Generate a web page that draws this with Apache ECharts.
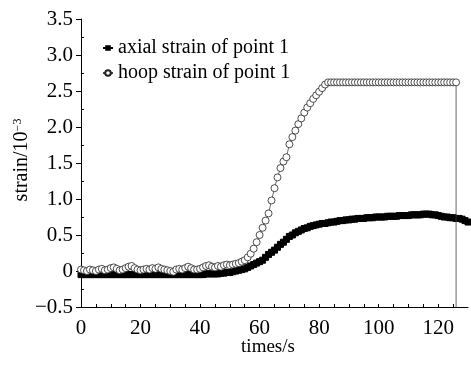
<!DOCTYPE html>
<html>
<head>
<meta charset="utf-8">
<script src="https://cdn.jsdelivr.net/npm/echarts@6/dist/echarts.min.js"></script>
<style>
html,body{margin:0;padding:0;background:#fff;}
#chart{width:471px;height:365px;}
</style>
</head>
<body>
<div id="chart"></div>
<script>
// ---- data ----
const seriesNames = ['axial strain of point 1', 'hoop strain of point 1'];

// axial strain, time (s) 0..130
const axialTime = [
  0,1,2,3,4,5,6,7,8,9,10,11,12,13,14,15,16,17,18,19,20,21,22,23,24,25,26,27,28,29,
  30,31,32,33,34,35,36,37,38,39,40,41,42,43,44,45,46,47,48,49,50,51,52,53,54,55,56,57,58,59,
  60,61,62,63,64,65,66,67,68,69,70,71,72,73,74,75,76,77,78,79,80,81,82,83,84,85,86,87,88,89,
  90,91,92,93,94,95,96,97,98,99,100,101,102,103,104,105,106,107,108,109,110,111,112,113,114,115,116,117,118,119,
  120,121,122,123,124,125,126,127,128,129,130
];
const axialStrain = [
  -0.05,-0.05,-0.05,-0.05,-0.05,-0.05,-0.05,-0.05,-0.05,-0.05,-0.05,-0.05,-0.05,-0.05,-0.05,-0.05,-0.05,-0.05,-0.05,-0.05,
  -0.05,-0.05,-0.05,-0.05,-0.05,-0.05,-0.05,-0.05,-0.05,-0.05,-0.05,-0.05,-0.05,-0.05,-0.05,-0.05,-0.05,-0.05,-0.05,-0.05,
  -0.05,-0.05,-0.04,-0.04,-0.04,-0.04,-0.04,-0.03,-0.03,-0.02,-0.02,-0.01,0.00,0.01,0.02,0.03,0.05,0.07,0.09,0.11,
  0.13,0.15,0.19,0.23,0.26,0.29,0.33,0.37,0.40,0.44,0.48,0.50,0.53,0.55,0.57,0.59,0.60,0.62,0.63,0.64,
  0.65,0.66,0.66,0.67,0.68,0.68,0.69,0.70,0.70,0.71,0.71,0.72,0.72,0.73,0.73,0.73,0.74,0.74,0.74,0.75,
  0.75,0.75,0.75,0.76,0.76,0.76,0.76,0.77,0.77,0.77,0.77,0.78,0.78,0.78,0.78,0.79,0.79,0.79,0.78,0.78,
  0.77,0.76,0.75,0.75,0.74,0.74,0.73,0.73,0.72,0.70,0.68
];

// hoop strain, time (s) 0..126, then the vertical drop at the end
const hoopTime = [
  0,1,2,3,4,5,6,7,8,9,10,11,12,13,14,15,16,17,18,19,20,21,22,23,24,25,26,27,28,29,
  30,31,32,33,34,35,36,37,38,39,40,41,42,43,44,45,46,47,48,49,50,51,52,53,54,55,56,57,58,59,
  60,61,62,63,64,65,66,67,68,69,70,71,72,73,74,75,76,77,78,79,80,81,82,83,84,85,86,87,88,89,
  90,91,92,93,94,95,96,97,98,99,100,101,102,103,104,105,106,107,108,109,110,111,112,113,114,115,116,117,118,119,
  120,121,122,123,124,125,126,126
];
const hoopStrain = [
  0.02,0.01,0.00,0.02,0.01,0.00,0.02,0.03,0.01,0.02,0.04,0.05,0.03,0.01,0.02,0.04,0.06,0.07,0.04,0.02,
  0.01,0.02,0.03,0.02,0.04,0.03,0.05,0.03,0.02,0.01,0.00,-0.01,0.02,0.03,0.02,0.04,0.06,0.04,0.02,0.02,
  0.03,0.05,0.07,0.08,0.06,0.05,0.07,0.06,0.08,0.09,0.08,0.09,0.10,0.11,0.13,0.15,0.19,0.24,0.31,0.40,
  0.50,0.60,0.70,0.80,0.98,1.15,1.30,1.43,1.52,1.58,1.76,1.86,1.95,2.04,2.12,2.20,2.27,2.33,2.39,2.44,
  2.49,2.54,2.59,2.62,2.62,2.62,2.62,2.62,2.62,2.62,2.62,2.62,2.62,2.62,2.62,2.62,2.62,2.62,2.62,2.62,
  2.62,2.62,2.62,2.62,2.62,2.62,2.62,2.62,2.62,2.62,2.62,2.62,2.62,2.62,2.62,2.62,2.62,2.62,2.62,2.62,
  2.62,2.62,2.62,2.62,2.62,2.62,2.62,-0.5
];

const xTickLabels = [0, 20, 40, 60, 80, 100, 120];
const xName = 'times/s';
const yNameMain = 'strain/10';
const yNameSup = '\u22123';

// ---- build ----
const serif = '"Liberation Serif", "Times New Roman", serif';
const axialData = axialTime.map((t, i) => [t, axialStrain[i]]);
const hoopData = hoopTime.map((t, i) => {
  const item = { value: [t, hoopStrain[i]] };
  if (i === hoopTime.length - 1) item.symbol = 'none';
  return item;
});

const chart = echarts.init(document.getElementById('chart'), null, { renderer: 'canvas' });
chart.setOption({
  backgroundColor: '#fff',
  animation: false,
  grid: { left: 81, right: 3, top: 19, bottom: 58, containLabel: false, outerBoundsMode: 'none' },
  legend: {
    orient: 'vertical',
    left: 102,
    top: 38,
    padding: 0,
    itemGap: 5,
    itemWidth: 10,
    itemHeight: 7,
    textStyle: { fontFamily: serif, fontSize: 20, color: '#000' },
    data: seriesNames
  },
  xAxis: {
    type: 'value',
    min: 0,
    max: 130,
    interval: 5,
    axisLine: { show: true, onZero: false, lineStyle: { color: '#000', width: 1 } },
    axisTick: { show: true, inside: true, length: 3, lineStyle: { color: '#000' } },
    splitLine: { show: false },
    axisLabel: {
      margin: 11,
      fontFamily: serif,
      fontSize: 21,
      color: '#000',
      showMaxLabel: false,
      formatter: v => (xTickLabels.indexOf(v) >= 0 ? String(v) : '')
    }
  },
  yAxis: {
    type: 'value',
    min: -0.5,
    max: 3.5,
    interval: 0.5,
    axisLine: { show: true, onZero: false, lineStyle: { color: '#000', width: 1 } },
    axisTick: { show: true, inside: false, length: 5, lineStyle: { color: '#000' } },
    minorTick: { show: true, splitNumber: 2, length: -3, lineStyle: { color: '#000' } },
    splitLine: { show: false },
    axisLabel: {
      margin: 8,
      fontFamily: serif,
      fontSize: 21,
      color: '#000',
      formatter: v => (Math.abs(v) < 1e-9 ? '0' : (v < 0 ? '\u2212' : '') + Math.abs(v).toFixed(1))
    }
  },
  graphic: [
    {
      type: 'text',
      x: 22,
      y: 160,
      rotation: Math.PI / 2,
      style: {
        text: '{a|' + yNameMain + '}{b|' + yNameSup + '}',
        align: 'center',
        verticalAlign: 'middle',
        rich: {
          a: { fontFamily: serif, fontSize: 20, fill: '#000', lineHeight: 20, verticalAlign: 'bottom' },
          b: { fontFamily: serif, fontSize: 12, fill: '#000', lineHeight: 20, verticalAlign: 'top' }
        }
      }
    },
    {
      type: 'text',
      x: 268,
      y: 347,
      style: {
        text: xName,
        fontFamily: serif,
        fontSize: 19,
        fill: '#000',
        align: 'center',
        verticalAlign: 'middle'
      }
    }
  ],
  series: [
    {
      name: seriesNames[0],
      type: 'line',
      data: axialData,
      symbol: 'rect',
      symbolSize: 6,
      showAllSymbol: true,
      itemStyle: { color: '#000', borderColor: '#000' },
      lineStyle: { color: '#000', width: 1.5 },
      z: 2
    },
    {
      name: seriesNames[1],
      type: 'line',
      data: hoopData,
      symbol: 'circle',
      symbolSize: 7,
      showAllSymbol: true,
      itemStyle: { color: '#fff', borderColor: '#222', borderWidth: 0.8 },
      lineStyle: { color: '#444', width: 0.8 },
      z: 3
    }
  ]
});
</script>
</body>
</html>
